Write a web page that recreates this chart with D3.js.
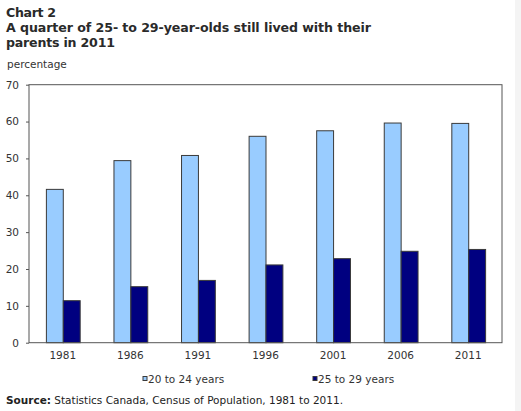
<!DOCTYPE html>
<html>
<head>
<meta charset="utf-8">
<script src="https://cdn.jsdelivr.net/npm/d3@7"></script>
<style>
  html, body { margin: 0; padding: 0; background: #fff; }
  svg { display: block; }
</style>
</head>
<body>
<svg id="chart" width="521" height="411"></svg>
<script>
// Census years and share (%) of young adults living with their parents
const years = ["1981", "1986", "1991", "1996", "2001", "2006", "2011"];
const age20to24 = [41.6, 49.4, 50.8, 56.0, 57.5, 59.6, 59.5];
const age25to29 = [11.4, 15.2, 16.9, 21.1, 22.8, 24.8, 25.3];
const seriesNames = ["20 to 24 years", "25 to 29 years"];
const yTicks = [0, 10, 20, 30, 40, 50, 60, 70];
const titleLines = ["Chart 2", "A quarter of 25- to 29-year-olds still lived with their", "parents in 2011"];

const colors = ["#99ccff", "#000080"];
const font = "Verdana, 'DejaVu Sans', sans-serif";

const svg = d3.select("#chart");
const W = 521, H = 411;
const plot = { left: 29, right: 502, top: 84.7, bottom: 342.7 };

// faint page margin strip on the right edge
svg.append("rect").attr("x", 515).attr("y", 0).attr("width", 6).attr("height", H).attr("fill", "#f4f4f4");

// Title block
const titleWidths = [50, 365, 109];
titleLines.forEach((line, i) => {
  svg.append("text").attr("x", 6).attr("y", 17 + i * 15)
    .attr("font-family", font).attr("font-size", 12.6).attr("font-weight", "bold").attr("fill", "#2a2a2a")
    .attr("textLength", titleWidths[i]).attr("lengthAdjust", "spacing")
    .text(line);
});

svg.append("text").attr("x", 7).attr("y", 68)
  .attr("font-family", font).attr("font-size", 10.5).attr("fill", "#333")
  .text("percentage");

const x0 = d3.scaleBand().domain(years).range([plot.left, plot.right]).paddingInner(0).paddingOuter(0);
const x1 = d3.scaleBand().domain([0, 1]).range([x0.bandwidth() * 0.25, x0.bandwidth() * 0.75]);
const y = d3.scaleLinear().domain([0, 70]).range([plot.bottom, plot.top]);

// Bars
const rows = years.map((yr, i) => ({ yr, vals: [age20to24[i], age25to29[i]] }));
const groups = svg.append("g").selectAll("g").data(rows).join("g")
  .attr("transform", d => `translate(${x0(d.yr)},0)`);
groups.selectAll("rect").data(d => d.vals.map((v, k) => ({ v, k }))).join("rect")
  .attr("x", d => x1(d.k) + 0.5)
  .attr("y", d => y(d.v))
  .attr("width", x1.bandwidth())
  .attr("height", d => y(0) - y(d.v))
  .attr("fill", d => colors[d.k])
  .attr("stroke", "#3a3a3a")
  .attr("stroke-width", 1);

// Plot frame
svg.append("rect")
  .attr("x", plot.left).attr("y", plot.top)
  .attr("width", plot.right - plot.left).attr("height", plot.bottom - plot.top)
  .attr("fill", "none").attr("stroke", "#555").attr("stroke-width", 1);

// Y axis
const yAxis = svg.append("g").attr("transform", `translate(${plot.left},0)`)
  .call(d3.axisLeft(y).tickValues(yTicks).tickSize(3).tickPadding(7));
yAxis.select(".domain").remove();
yAxis.selectAll("line").attr("stroke", "#555");
yAxis.selectAll("text").attr("font-family", font).attr("font-size", 10.5).attr("fill", "#333");

// X axis
const xAxis = svg.append("g").attr("transform", `translate(0,${plot.bottom})`)
  .call(d3.axisBottom(x0).tickSize(0).tickPadding(9));
xAxis.select(".domain").remove();
xAxis.selectAll("text").attr("font-family", font).attr("font-size", 10.5).attr("fill", "#333");

// Legend
const legendX = [143, 313];
seriesNames.forEach((name, k) => {
  const g = svg.append("g").attr("transform", `translate(${legendX[k]},376.5)`);
  g.append("rect").attr("x", 0).attr("y", 0).attr("width", 4).attr("height", 4)
    .attr("fill", colors[k]).attr("stroke", "#3a3a3a").attr("stroke-width", 1);
  g.append("text").attr("x", 5).attr("y", 6)
    .attr("font-family", font).attr("font-size", 10.5).attr("fill", "#333").text(name);
});

// Source note
const src = svg.append("text").attr("x", 6).attr("y", 404)
  .attr("font-family", font).attr("font-size", 10.5).attr("fill", "#222");
src.append("tspan").attr("font-weight", "bold").text("Source:");
src.append("tspan").text(" Statistics Canada, Census of Population, 1981 to 2011.");
</script>
</body>
</html>
